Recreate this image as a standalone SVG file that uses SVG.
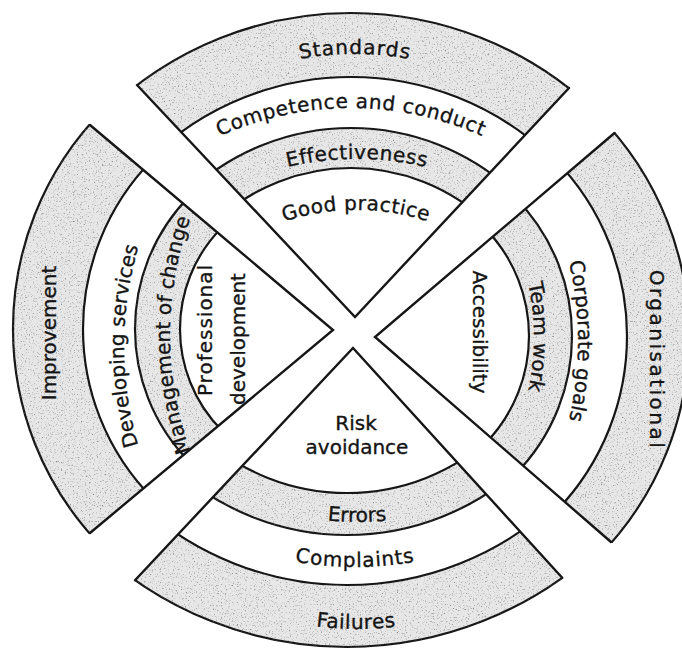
<svg xmlns="http://www.w3.org/2000/svg" width="682" height="649" viewBox="0 0 682 649">
  <style>
    .ring { stroke: #161616; stroke-width: 2.2; }
    .shade { fill: #e7e7e7; }
    .plain { fill: #ffffff; }
    .edge { stroke: #161616; stroke-width: 2.4; stroke-linecap: round; fill: none; }
    .lbl { font-family: "DejaVu Sans", "Liberation Sans", sans-serif; font-size: 20px; fill: #141414; stroke: #141414; stroke-width: 0.35; }
  </style>
  <defs>
    <!-- speckled tone for the shaded rings -->
    <filter id="grain" x="-5%" y="-5%" width="110%" height="110%" color-interpolation-filters="sRGB">
      <feTurbulence type="fractalNoise" baseFrequency="0.75" numOctaves="2" seed="7" result="noise"/>
      <feColorMatrix in="noise" type="matrix" values="0 0 0 0 0.4  0 0 0 0 0.4  0 0 0 0 0.4  2.6 0 0 0 -1.5" result="specks"/>
      <feComposite in="specks" in2="SourceAlpha" operator="in" result="clipped"/>
      <feMerge><feMergeNode in="SourceGraphic"/><feMergeNode in="clipped"/></feMerge>
    </filter>

    <!-- wedges that bound each quarter -->
    <clipPath id="w-top"><polygon points="355,317 72.6,15.4 72.6,-40 633.2,-40 633.2,19.3"/></clipPath>
    <clipPath id="w-right"><polygon points="375,337 688.3,70.5 760,70.5 760,603.5 681.8,603.5"/></clipPath>
    <clipPath id="w-bottom"><polygon points="353,348 73.5,645.7 73.5,720 629.9,720 629.9,652.2"/></clipPath>
    <clipPath id="w-left"><polygon points="333,330 17.1,63.5 -60,63.5 -60,593.9 17.1,593.9"/></clipPath>

    <!-- label baselines -->
    <path id="p-std" d="M205,94.2 A300,300 0 0 1 505,94.2"/>
    <path id="p-comp" d="M167.5,165.9 A320,320 0 0 1 534.5,165.9"/>
    <path id="p-eff" d="M230.2,187.1 A300,300 0 0 1 483.8,187.1"/>
    <path id="p-good" d="M241,240.8 A230,230 0 0 1 471,240.8"/>
    <path id="p-fail" d="M229.2,600.9 A300,300 0 0 0 482.8,600.9"/>
    <path id="p-compl" d="M223.9,541.5 A350,350 0 0 0 486.1,541.5"/>
    <path id="p-err" d="M254.4,503.9 A300,300 0 0 0 459.6,503.9"/>
    <path id="p-dev" d="M145.1,465.7 A350,350 0 0 1 145.1,226.3"/>
    <path id="p-mgmt" d="M202,479.5 A342,342 0 0 1 202,190.5"/>
    <path id="p-corp" d="M560.9,232.8 A350,350 0 0 1 560.9,449.2"/>
    <path id="p-team" d="M518.9,251.5 A250,250 0 0 1 518.9,422.5"/>
  </defs>

  <rect width="682" height="649" fill="#ffffff"/>

  <!-- upper quarter -->
  <g id="q-top">
    <g clip-path="url(#w-top)">
      <circle class="ring shade" cx="351" cy="366" r="353" filter="url(#grain)"/>
      <circle class="ring plain" cx="351" cy="366" r="289"/>
      <circle class="ring shade" cx="351" cy="366" r="238" filter="url(#grain)"/>
      <circle class="ring plain" cx="351" cy="366" r="198"/>
    </g>
    <polyline class="edge" points="137,85 355,317 569,88"/>
    <text class="lbl" letter-spacing="1"><textPath href="#p-std" startOffset="50%" text-anchor="middle">Standards</textPath></text>
    <text class="lbl" letter-spacing="0.6"><textPath href="#p-comp" startOffset="50%" text-anchor="middle">Competence and conduct</textPath></text>
    <text class="lbl" letter-spacing="0.5" font-size="19"><textPath href="#p-eff" startOffset="50%" text-anchor="middle">Effectiveness</textPath></text>
    <text class="lbl" letter-spacing="0.5"><textPath href="#p-good" startOffset="50%" text-anchor="middle">Good practice</textPath></text>
  </g>

  <!-- right quarter -->
  <g id="q-right">
    <g clip-path="url(#w-right)">
      <circle class="ring shade" cx="375" cy="336" r="314" filter="url(#grain)"/>
      <circle class="ring plain" cx="375" cy="336" r="252"/>
      <circle class="ring shade" cx="375" cy="336" r="197" filter="url(#grain)"/>
      <circle class="ring plain" cx="375" cy="336" r="154"/>
    </g>
    <polyline class="edge" points="614.5,133 375,337 611,542"/>
    <text class="lbl" letter-spacing="2.5" text-anchor="middle" transform="translate(650,360) rotate(90)">Organisational</text>
    <text class="lbl" font-size="18.5"><textPath href="#p-corp" startOffset="50%" text-anchor="middle">Corporate goals</textPath></text>
    <text class="lbl"><textPath href="#p-team" startOffset="50%" text-anchor="middle">Team work</textPath></text>
    <text class="lbl" text-anchor="middle" transform="translate(473,332) rotate(90)">Accessibility</text>
  </g>

  <!-- lower quarter -->
  <g id="q-bottom">
    <g clip-path="url(#w-bottom)">
      <circle class="ring shade" cx="347" cy="278" r="369" filter="url(#grain)"/>
      <circle class="ring plain" cx="347" cy="278" r="307"/>
      <circle class="ring shade" cx="347" cy="278" r="257" filter="url(#grain)"/>
      <circle class="ring plain" cx="347" cy="278" r="215"/>
    </g>
    <polyline class="edge" points="135,580.2 353,348 562.2,577.8"/>
    <text class="lbl" letter-spacing="0.5"><textPath href="#p-fail" startOffset="50%" text-anchor="middle">Failures</textPath></text>
    <text class="lbl" letter-spacing="0.8"><textPath href="#p-compl" startOffset="50%" text-anchor="middle">Complaints</textPath></text>
    <text class="lbl"><textPath href="#p-err" startOffset="50%" text-anchor="middle">Errors</textPath></text>
    <text class="lbl" text-anchor="middle" x="356" y="430" font-size="19">Risk</text>
    <text class="lbl" text-anchor="middle" x="357" y="454" font-size="19">avoidance</text>
  </g>

  <!-- left quarter -->
  <g id="q-left">
    <g clip-path="url(#w-left)">
      <circle class="ring shade" cx="324" cy="329" r="311" filter="url(#grain)"/>
      <circle class="ring plain" cx="324" cy="329" r="241"/>
      <circle class="ring shade" cx="324" cy="329" r="189" filter="url(#grain)"/>
      <circle class="ring plain" cx="324" cy="329" r="144"/>
    </g>
    <polyline class="edge" points="90,125 333,330 90,533"/>
    <text class="lbl" text-anchor="middle" transform="translate(56,333) rotate(-90)">Improvement</text>
    <text class="lbl"><textPath href="#p-dev" startOffset="50%" text-anchor="middle">Developing services</textPath></text>
    <text class="lbl"><textPath href="#p-mgmt" startOffset="50%" text-anchor="middle">Management of change</textPath></text>
    <text class="lbl" letter-spacing="1" text-anchor="middle" transform="translate(212,330) rotate(-90)">Professional</text>
    <text class="lbl" text-anchor="middle" transform="translate(245,339) rotate(-90)">development</text>
  </g>
</svg>
